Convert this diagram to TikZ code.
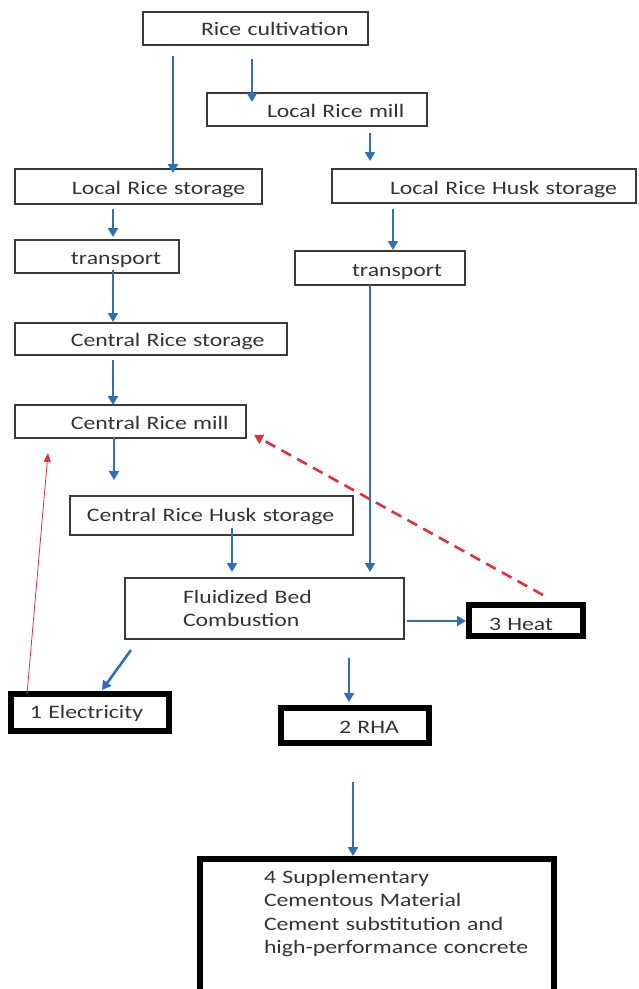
\documentclass[tikz,border=0pt]{standalone}
\usepackage{fontspec}
\setmainfont{Carlito}[FakeStretch=1.25]
\usetikzlibrary{arrows.meta}

\definecolor{flowblue}{HTML}{2E70B6}
\definecolor{backred}{HTML}{E52D3B}
\definecolor{boxline}{HTML}{3A3A3A}
\definecolor{ink}{HTML}{333333}

\begin{document}
\begin{tikzpicture}[
  x=1pt, y=-1pt,
  box/.style={draw=boxline, line width=1.3pt, inner sep=0pt, outer sep=0pt,
    anchor=north west, align=left, text=ink, font=\fontsize{19}{23.5}\selectfont},
  product/.style={box, draw=black, line width=6pt},
  flow/.style={draw=flowblue, line width=2.6pt, -{Triangle[width=10pt,length=9pt]}},
  heatback/.style={draw=backred, line width=2.6pt, dash pattern=on 11pt off 7pt,
    -{Triangle[width=10pt,length=9pt]}},
  powerback/.style={draw=backred, line width=0.8pt, -{Triangle[width=7pt,length=9pt]}},
]
\useasboundingbox (0,0) rectangle (638,989);

% ── the rice side, on the left ────────────────────────────────────────────
\node[box, text width=225pt, text height=23pt, text depth=10pt] (cult) at (143,12) {\hspace*{58pt}Rice cultivation};
\node[box, text width=247pt, text height=25pt, text depth=10pt] (lstore) at (15,169) {\hspace*{57pt}Local Rice storage};
\node[box, text width=164pt, text height=24pt, text depth=9pt] (ltrans) at (15,240) {\hspace*{56pt}transport};
\node[box, text width=272pt, text height=23pt, text depth=9pt] (cstore) at (15,323) {\hspace*{56pt}Central Rice storage};
\node[box, text width=231pt, text height=24pt, text depth=9pt] (cmill) at (15,405) {\hspace*{56pt}Central Rice mill};
\node[box, text width=283pt, text height=25pt, text depth=14pt] (chusk) at (70,496) {\hspace*{17pt}Central Rice Husk storage};

% ── the husk side, on the right ───────────────────────────────────────────
\node[box, text width=220pt, text height=24pt, text depth=9pt] (lmill) at (207,93) {\hspace*{60pt}Local Rice mill};
\node[box, text width=304pt, text height=25pt, text depth=9pt] (lhusk) at (332,169) {\hspace*{58pt}Local Rice Husk storage};
\node[box, text width=170pt, text height=25pt, text depth=9pt] (rtrans) at (295,251) {\hspace*{57pt}transport};

% ── the boiler and what comes out of it ───────────────────────────────────
\node[box, text width=279pt, text height=25pt, text depth=36pt] (fbc) at (125,578)
  {\hspace*{58pt}Fluidized Bed\\\hspace*{58pt}Combustion};
\node[product, text width=114pt, text height=25pt, text depth=6pt] (heat) at (469,605) {\hspace*{20pt}3 Heat};
\node[product, text width=158pt, text height=24pt, text depth=13pt] (elec) at (11,694) {\hspace*{19pt}1 Electricity};
\node[product, text width=148pt, text height=25pt, text depth=10pt] (rha) at (281,708) {\hspace*{58pt}2 RHA};
\node[product, text width=354pt, text height=24pt, text depth=117pt] (scm) at (200,859)
  {\hspace*{64pt}4 Supplementary\\\hspace*{64pt}Cementous Material\\
   \hspace*{64pt}Cement substitution and\\\hspace*{64pt}high-performance concrete};

% ── the flows ─────────────────────────────────────────────────────────────
\draw[flow, shorten <=11pt, shorten >=-4pt] (cult.south -| 173,0) -- (lstore.north -| 173,0);
\draw[flow, shorten <=14pt, shorten >=-9pt] (cult.south -| 252,0) -- (lmill.north -| 252,0);
\draw[flow, shorten <=7pt, shorten >=8pt] (lmill.south -| 370,0) -- (lhusk.north -| 370,0);
\draw[flow, shorten <=6pt, shorten >=1pt] (lhusk.south -| 393,0) -- (rtrans.north -| 393,0);
\draw[flow, shorten <=5pt, shorten >=3pt] (lstore.south -| 113,0) -- (ltrans.north -| 113,0);
\draw[flow, shorten <=-3pt, shorten >=1pt] (ltrans.south -| 113,0) -- (cstore.north -| 113,0);
\draw[flow, shorten <=5pt] (cstore.south -| 113,0) -- (cmill.north -| 113,0);
\draw[flow, shorten <=-1pt, shorten >=16pt] (cmill.south -| 114,0) -- (chusk.north -| 114,0);
\draw[flow, shorten <=-7pt, shorten >=6pt] (chusk.south -| 232,0) -- (fbc.north -| 232,0);
\draw[flow, shorten >=6pt] (rtrans.south -| 370,0) -- (fbc.north -| 370,0);
\draw[flow, shorten <=3pt, shorten >=3pt] (fbc.east |- 0,621) -- (heat.west |- 0,621);
\draw[flow] ([shift={(6,11)}]fbc.south west) -- ([shift={(91,-4)}]elec.north west);
\draw[flow, shorten <=19pt, shorten >=6pt] (fbc.south -| 349,0) -- (rha.north -| 349,0);
\draw[flow, shorten <=39pt, shorten >=3pt] (rha.south -| 353,0) -- (scm.north -| 353,0);

% heat and power go back to the mill
\draw[heatback] ([shift={(74,-10)}]heat.north west) -- ([shift={(8,-3)}]cmill.south east);
\draw[powerback] ([xshift=16pt]elec.north west) -- ([shift={(33,15)}]cmill.south west);

\end{tikzpicture}
\end{document}
